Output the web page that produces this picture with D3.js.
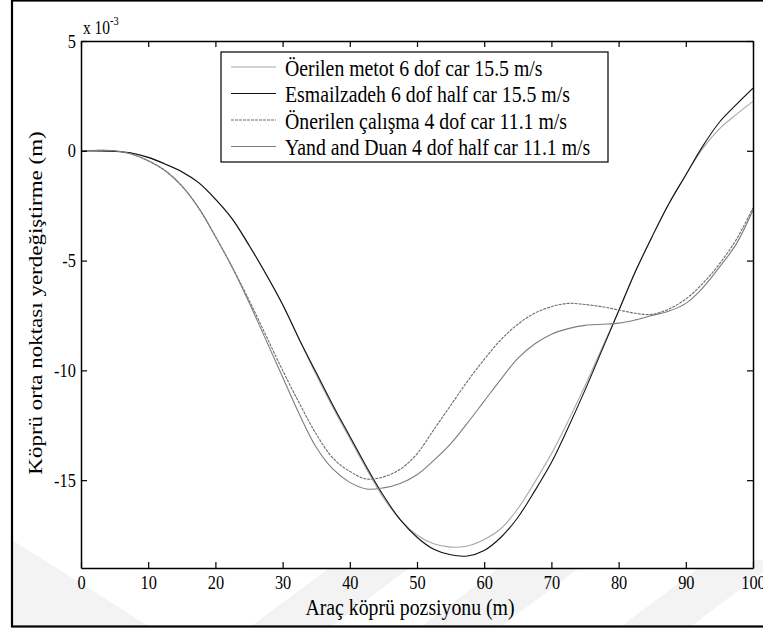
<!DOCTYPE html>
<html>
<head>
<meta charset="utf-8">
<script src="https://cdn.jsdelivr.net/npm/d3@7"></script>
<style>
  html, body { margin: 0; padding: 0; background: #fff; }
  svg { display: block; }
</style>
</head>
<body>
<svg id="chart" width="763" height="632"></svg>
<script>
// Bridge position along the span (m)
const positions = [0, 5, 7.5, 10, 12.5, 15, 17.5, 20, 22.5, 25, 27.5, 30, 32.5, 35, 37.5, 40, 42.5, 45, 47.5, 50,
                   52.5, 55, 57.5, 60, 62.5, 65, 67.5, 70, 72.5, 75, 77.5, 80, 82.5, 85, 87.5, 90, 92.5, 95, 97.5, 100];

// Mid-span displacement (x 10^-3 m)
const proposed6dof155 = [0, -0.03, -0.1, -0.3, -0.6, -0.95, -1.45, -2.2, -3.1, -4.3, -5.6, -7.0, -8.6, -10.2, -11.7, -13.1,
                         -14.5, -15.8, -16.8, -17.5, -17.9, -18.05, -18.0, -17.7, -17.2, -16.3, -15.1, -13.8, -12.3, -10.7,
                         -9.0, -7.3, -5.5, -3.9, -2.4, -1.1, 0.1, 1.0, 1.65, 2.25];
const esmailzadeh6dof155 = [0, -0.03, -0.1, -0.3, -0.6, -0.95, -1.45, -2.2, -3.1, -4.3, -5.6, -7.0, -8.6, -10.1, -11.6, -13.0,
                            -14.4, -15.7, -16.8, -17.6, -18.15, -18.4, -18.45, -18.2, -17.6, -16.7, -15.5, -14.2, -12.6, -10.9,
                            -9.1, -7.3, -5.5, -3.9, -2.4, -1.1, 0.2, 1.3, 2.1, 2.85];
const proposed4dof111 = [0, 0, -0.15, -0.45, -0.9, -1.6, -2.6, -3.9, -5.3, -6.8, -8.4, -10.0, -11.5, -12.9, -14.0, -14.6,
                         -14.95, -14.85, -14.5, -13.8, -12.7, -11.6, -10.5, -9.5, -8.6, -7.9, -7.4, -7.1, -6.95, -7.0,
                         -7.1, -7.25, -7.4, -7.45, -7.2, -6.75, -6.05, -5.15, -4.05, -2.6];
const yangDuan4dof111 = [0, 0, -0.15, -0.45, -0.9, -1.6, -2.6, -3.9, -5.3, -6.9, -8.6, -10.3, -12.0, -13.5, -14.5, -15.1,
                         -15.4, -15.35, -15.15, -14.75, -14.1, -13.35, -12.4, -11.4, -10.4, -9.45, -8.8, -8.35, -8.1, -7.95,
                         -7.9, -7.85, -7.7, -7.5, -7.3, -6.95, -6.25, -5.3, -4.25, -2.7];

const seriesNames = [
  "Öerilen metot 6 dof car 15.5 m/s",
  "Esmailzadeh 6 dof half car 15.5 m/s",
  "Önerilen çalışma 4 dof car 11.1 m/s",
  "Yand and Duan 4 dof half car 11.1 m/s"
];
const xTicks = [0, 10, 20, 30, 40, 50, 60, 70, 80, 90, 100];
const yTicks = [5, 0, -5, -10, -15];

const series = [
  { name: seriesNames[0], values: proposed6dof155, color: "#a8a8a8", dash: null },
  { name: seriesNames[1], values: esmailzadeh6dof155, color: "#111111", dash: null },
  { name: seriesNames[2], values: proposed4dof111, color: "#6c6c6c", dash: "3,1" },
  { name: seriesNames[3], values: yangDuan4dof111, color: "#7d7d7d", dash: null }
];

const FONT = "Times New Roman, Liberation Serif, Times, DejaVu Serif, serif";
const SQUEEZE = 0.86; // glyphs are narrower than they are tall

const svg = d3.select("#chart");
const plot = { left: 81, right: 753, top: 41, bottom: 568 };

const x = d3.scaleLinear().domain([0, 100]).range([plot.left, plot.right]);
const y = d3.scaleLinear().domain([-19, 5]).range([plot.bottom, plot.top]);

// Faint watermark bands in the lower part of the figure
const wm = svg.append("g").attr("fill", "#f3f3f3");
[
  [[12, 540], [12, 627], [150, 627]],
  [[250, 627], [330, 627], [420, 560], [340, 560]],
  [[420, 627], [500, 627], [590, 560], [510, 560]],
  [[620, 627], [690, 627], [763, 572], [763, 560], [710, 560]]
].forEach(pts => wm.append("polygon").attr("points", pts.map(p => p.join(",")).join(" ")));

// Outer figure frame
svg.append("rect")
  .attr("x", 12).attr("y", 0.5).attr("width", 800).attr("height", 626)
  .attr("fill", "none").attr("stroke", "#000").attr("stroke-width", 2.2);

// Plot background
svg.append("rect")
  .attr("x", plot.left).attr("y", plot.top)
  .attr("width", plot.right - plot.left).attr("height", plot.bottom - plot.top)
  .attr("fill", "#fff");

// Curves
const line = d3.line()
  .x((d, i) => x(positions[i]))
  .y(d => y(d))
  .curve(d3.curveCatmullRom.alpha(0.5));

svg.append("clipPath").attr("id", "plotClip")
  .append("rect")
  .attr("x", plot.left).attr("y", plot.top)
  .attr("width", plot.right - plot.left).attr("height", plot.bottom - plot.top);

const g = svg.append("g").attr("clip-path", "url(#plotClip)");
series.forEach(s => {
  g.append("path")
    .datum(s.values)
    .attr("d", line)
    .attr("fill", "none")
    .attr("stroke", s.color)
    .attr("stroke-width", 1.1)
    .attr("stroke-dasharray", s.dash);
});

// Axes (ticks pointing inward on all four sides)
const tickLen = 6;
const fmt = d => String(d);
const axisBottom = d3.axisBottom(x).tickValues(xTicks).tickSizeInner(-tickLen).tickSizeOuter(0).tickPadding(8).tickFormat(fmt);
const axisTop = d3.axisTop(x).tickValues(xTicks).tickSizeInner(-tickLen).tickSizeOuter(0).tickFormat("");
const axisLeft = d3.axisLeft(y).tickValues(yTicks).tickSizeInner(-tickLen).tickSizeOuter(0).tickPadding(6).tickFormat(fmt);
const axisRight = d3.axisRight(y).tickValues(yTicks).tickSizeInner(-tickLen).tickSizeOuter(0).tickFormat("");

function styleAxis(sel) {
  sel.attr("font-family", FONT).attr("font-size", 19);
  sel.select(".domain").attr("stroke", "#000").attr("stroke-width", 1.5);
  sel.selectAll(".tick line").attr("stroke", "#000").attr("stroke-width", 1.2);
  sel.selectAll(".tick text").attr("fill", "#000").attr("transform", `scale(${SQUEEZE},1)`);
}

svg.append("g").attr("transform", `translate(0,${plot.bottom})`).call(axisBottom).call(styleAxis);
svg.append("g").attr("transform", `translate(0,${plot.top})`).call(axisTop).call(styleAxis);
svg.append("g").attr("transform", `translate(${plot.left},0)`).call(axisLeft).call(styleAxis);
svg.append("g").attr("transform", `translate(${plot.right},0)`).call(axisRight).call(styleAxis);

// Exponent label
const expo = svg.append("text")
  .attr("transform", `translate(${plot.left + 2},34) scale(${SQUEEZE},1)`)
  .attr("font-family", FONT).attr("font-size", 18);
expo.append("tspan").text("x 10");
expo.append("tspan").attr("dy", -9).attr("font-size", 12).text("-3");

// Axis titles
svg.append("text")
  .attr("transform", `translate(410,615) scale(${SQUEEZE},1)`)
  .attr("text-anchor", "middle").attr("font-family", FONT).attr("font-size", 23)
  .text("Araç köprü pozsiyonu (m)");

svg.append("text")
  .attr("transform", `translate(42,303) rotate(-90) scale(1,${SQUEEZE})`)
  .attr("text-anchor", "middle").attr("font-family", FONT).attr("font-size", 23)
  .text("Köprü orta noktası yerdeğiştirme (m)");

// Legend
const legend = { left: 221, top: 52, width: 387, height: 110, rowStart: 67, rowStep: 26.5 };
svg.append("rect")
  .attr("x", legend.left).attr("y", legend.top)
  .attr("width", legend.width).attr("height", legend.height)
  .attr("fill", "#fff").attr("stroke", "#000").attr("stroke-width", 1.2);

series.forEach((s, i) => {
  const yy = legend.rowStart + i * legend.rowStep;
  svg.append("line")
    .attr("x1", legend.left + 10).attr("x2", legend.left + 55)
    .attr("y1", yy).attr("y2", yy)
    .attr("stroke", s.color).attr("stroke-width", 1.1)
    .attr("stroke-dasharray", s.dash);
  svg.append("text")
    .attr("transform", `translate(${legend.left + 64},${yy + 8.5}) scale(${SQUEEZE},1)`)
    .attr("font-family", FONT).attr("font-size", 23)
    .text(s.name);
});
</script>
</body>
</html>
